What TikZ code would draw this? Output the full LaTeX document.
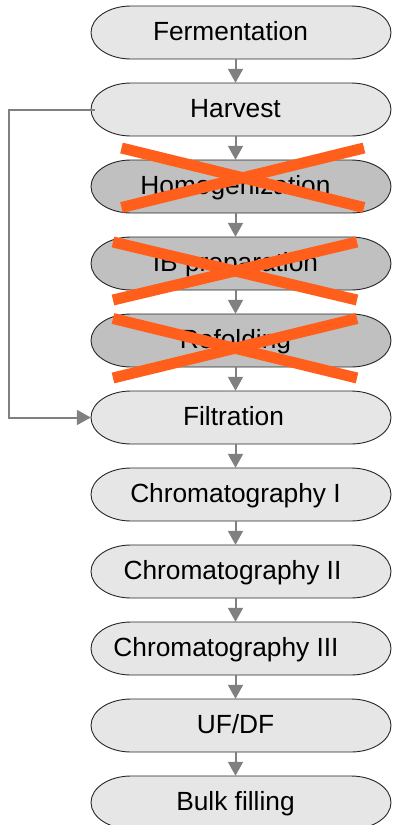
\documentclass[tikz,border=0pt]{standalone}
\usepackage{fontspec}
\setmainfont{Liberation Sans}
\usetikzlibrary{arrows.meta}
\definecolor{lightfill}{HTML}{E6E6E6}
\definecolor{darkfill}{HTML}{C0C0C0}
\definecolor{flowgray}{HTML}{808080}
\definecolor{crossorange}{HTML}{FF5F1A}
\newcommand\stadiumshape[2]{% top y, fill
  \path[draw=black!85, fill=#2, line width=0.9pt]
    (131,#1) -- (351,#1)
    .. controls (373.1,#1) and (391,#1+11.86) .. (391,#1+26.5)
    .. controls (391,#1+41.14) and (373.1,#1+53) .. (351,#1+53)
    -- (131,#1+53)
    .. controls (108.9,#1+53) and (91,#1+41.14) .. (91,#1+26.5)
    .. controls (91,#1+11.86) and (108.9,#1) .. (131,#1) -- cycle;
}
\begin{document}
\begin{tikzpicture}[x=1pt, y=-1pt,
  stagebox/.style={minimum width=289pt, minimum height=53pt, inner sep=0pt,
    text height=19pt, text depth=4pt,
    font=\fontsize{26.3pt}{30pt}\selectfont},
  flow/.style={draw=flowgray, line width=2pt,
    -{Triangle[width=15pt, length=14pt]}, flowgray},
  crossline/.style={draw=crossorange, line width=11pt, line cap=butt}]
\useasboundingbox (0,0) rectangle (392,825);

% shapes
\stadiumshape{6}{lightfill}
\stadiumshape{83}{lightfill}
\stadiumshape{160}{darkfill}
\stadiumshape{237}{darkfill}
\stadiumshape{314}{darkfill}
\stadiumshape{391}{lightfill}
\stadiumshape{468}{lightfill}
\stadiumshape{545}{lightfill}
\stadiumshape{622}{lightfill}
\stadiumshape{699}{lightfill}
\stadiumshape{776}{lightfill}

% labels (named nodes)
\node[stagebox] (ferm)  at (235.5,32.5)  {Fermentation\hspace*{10pt}};
\node[stagebox] (harv)  at (235.5,109.5) {Harvest};
\node[stagebox] (homo)  at (235.5,186.5) {Homogenization};
\node[stagebox] (ibp)   at (235.5,263.5) {IB preparation};
\node[stagebox] (refo)  at (235.5,340.5) {Refolding};
\node[stagebox] (filt)  at (235.5,417.5) {Filtration\hspace*{4pt}};
\node[stagebox] (chr1)  at (235.5,494.5) {Chromatography I};
\node[stagebox] (chr2)  at (235.5,571.5) {Chromatography II\hspace*{6pt}};
\node[stagebox] (chr3)  at (235.5,648.5) {Chromatography III\hspace*{19pt}};
\node[stagebox] (ufdf)  at (235.5,725.5) {UF/DF};
\node[stagebox] (bulk)  at (235.5,802.5) {Bulk filling};

% connectors
\draw[flow] (ferm.south) -- (harv.north);
\draw[flow] (harv.south) -- (homo.north);
\draw[flow] (homo.south) -- (ibp.north);
\draw[flow] (ibp.south) -- (refo.north);
\draw[flow] (refo.south) -- (filt.north);
\draw[flow] (filt.south) -- (chr1.north);
\draw[flow] (chr1.south) -- (chr2.north);
\draw[flow] (chr2.south) -- (chr3.north);
\draw[flow] (chr3.south) -- (ufdf.north);
\draw[flow] (ufdf.south) -- (bulk.north);
\coordinate (loopx) at (9,0);
\draw[flow] ([xshift=4pt]harv.west) -| (loopx |- filt.west) -- (filt.west);

% crosses
\draw[crossline] (121.5,148) -- (364,207.5);
\draw[crossline] (121.5,207.5) -- (364,148);
\draw[crossline] (113,242) -- (357,300);
\draw[crossline] (113,300) -- (357,242);
\draw[crossline] (113,318.5) -- (357,378);
\draw[crossline] (113,378) -- (357,318.5);
\end{tikzpicture}
\end{document}
